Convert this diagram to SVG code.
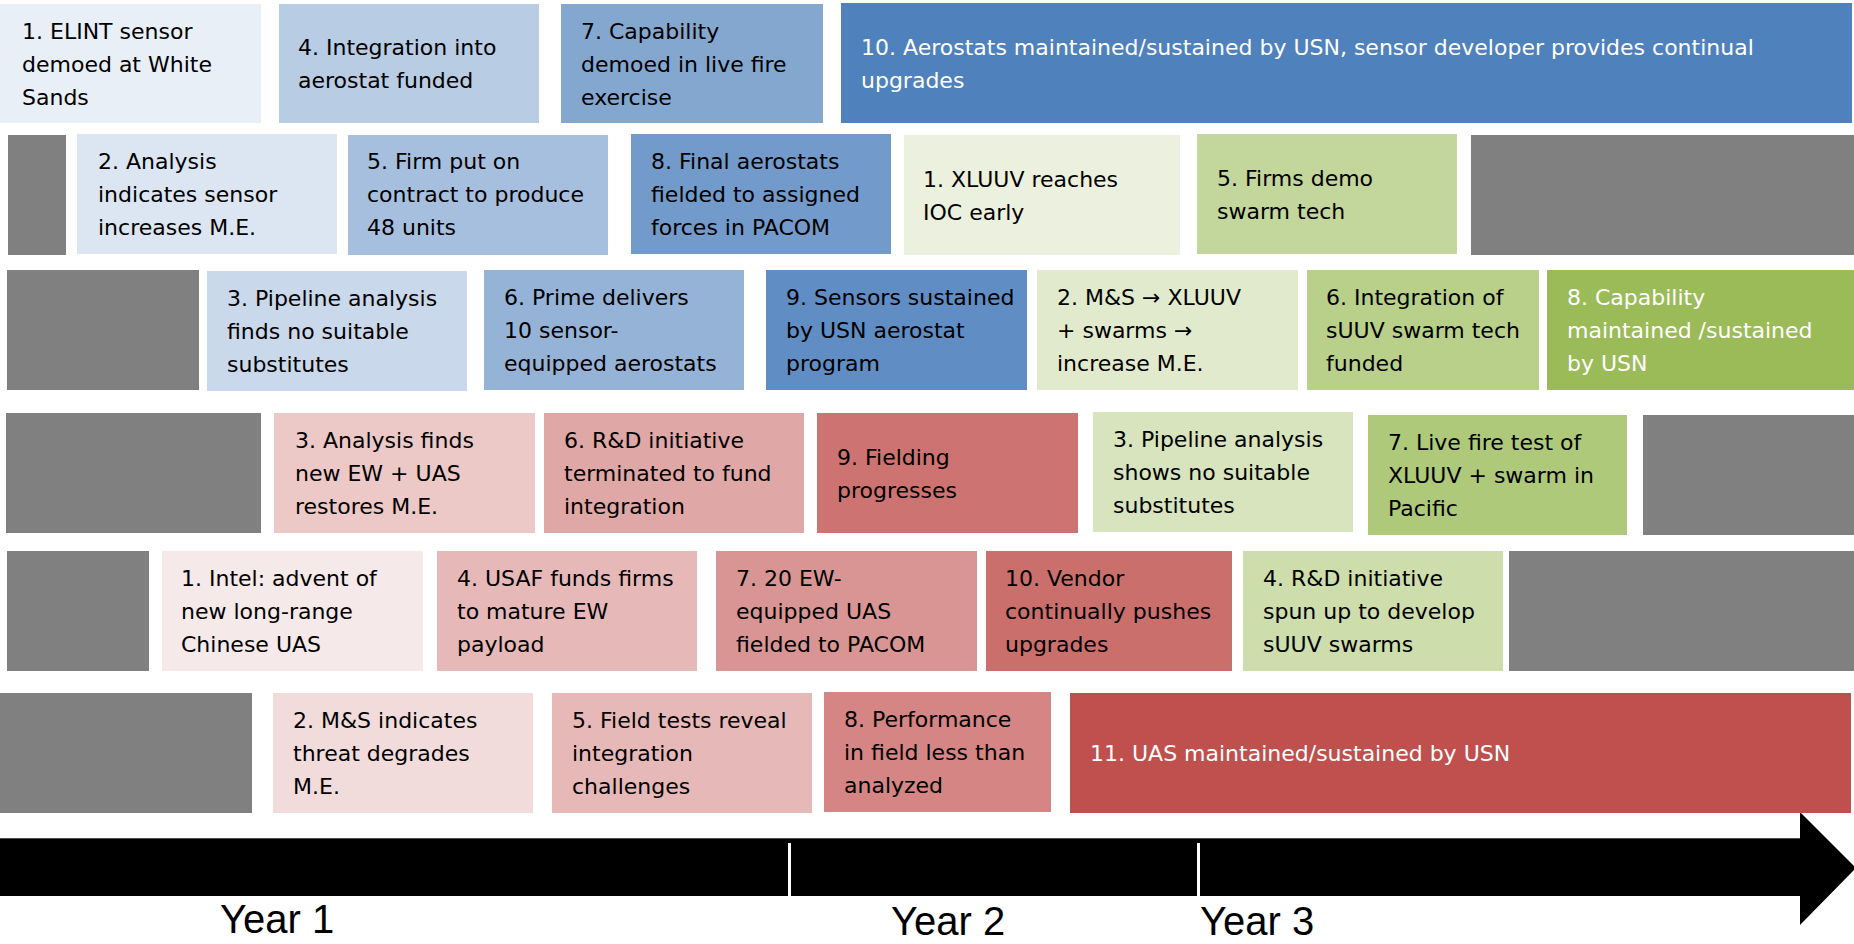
<svg xmlns="http://www.w3.org/2000/svg" width="1854" height="944" viewBox="0 0 1854 944">
<style>
  .t { font-family: "DejaVu Sans", "Liberation Sans", sans-serif; font-size: 22px; fill: #000; }
  .w { fill: #fff; }
  .gray { fill: #808080; }
  .yr { font-family: "Liberation Sans", "DejaVu Sans", sans-serif; font-size: 40px; fill: #000; }
</style>
<rect width="1854" height="944" fill="#fff"/>

<!-- Row 1 -->
<g id="b1"><rect x="0" y="4" width="261" height="119" fill="#E9EFF7"/>
<text class="t"><tspan x="22" y="38.5">1. ELINT sensor</tspan><tspan x="22" y="71.5">demoed at White</tspan><tspan x="22" y="104.5">Sands</tspan></text></g>
<g id="b4"><rect x="279" y="4" width="260" height="119" fill="#B8CCE4"/>
<text class="t"><tspan x="298" y="55">4. Integration into</tspan><tspan x="298" y="88">aerostat funded</tspan></text></g>
<g id="b7"><rect x="561" y="4" width="262" height="119" fill="#84A7D0"/>
<text class="t"><tspan x="581" y="38.5">7. Capability</tspan><tspan x="581" y="71.5">demoed in live fire</tspan><tspan x="581" y="104.5">exercise</tspan></text></g>
<g id="b10"><rect x="841" y="3" width="1011" height="120" fill="#4F81BD"/>
<text class="t w"><tspan x="861" y="54.5">10. Aerostats maintained/sustained by USN, sensor developer provides continual</tspan><tspan x="861" y="87.5">upgrades</tspan></text></g>

<!-- Row 2 -->
<g id="gray2a"><rect class="gray" x="8" y="135" width="58" height="120"/></g>
<g id="b2"><rect x="77" y="134" width="260" height="120" fill="#DCE6F2"/>
<text class="t"><tspan x="98" y="169">2. Analysis</tspan><tspan x="98" y="202">indicates sensor</tspan><tspan x="98" y="235">increases M.E.</tspan></text></g>
<g id="b5"><rect x="348" y="135" width="260" height="120" fill="#A7BFDE"/>
<text class="t"><tspan x="367" y="169">5. Firm put on</tspan><tspan x="367" y="202">contract to produce</tspan><tspan x="367" y="235">48 units</tspan></text></g>
<g id="b8"><rect x="631" y="134" width="260" height="120" fill="#729ACA"/>
<text class="t"><tspan x="651" y="169">8. Final aerostats</tspan><tspan x="651" y="202">fielded to assigned</tspan><tspan x="651" y="235">forces in PACOM</tspan></text></g>
<g id="g1"><rect x="904" y="135" width="276" height="120" fill="#EBF1DE"/>
<text class="t"><tspan x="923" y="186.5">1. XLUUV reaches</tspan><tspan x="923" y="219.5">IOC early</tspan></text></g>
<g id="g5"><rect x="1197" y="134" width="260" height="120" fill="#C3D69B"/>
<text class="t"><tspan x="1217" y="185.5">5. Firms demo</tspan><tspan x="1217" y="218.5">swarm tech</tspan></text></g>
<g id="gray2b"><rect class="gray" x="1471" y="135" width="383" height="120"/></g>

<!-- Row 3 -->
<g id="gray3a"><rect class="gray" x="7" y="270" width="192" height="120"/></g>
<g id="b3"><rect x="207" y="271" width="260" height="120" fill="#C9D8EB"/>
<text class="t"><tspan x="227" y="306">3. Pipeline analysis</tspan><tspan x="227" y="339">finds no suitable</tspan><tspan x="227" y="372">substitutes</tspan></text></g>
<g id="b6"><rect x="484" y="270" width="260" height="120" fill="#95B3D7"/>
<text class="t"><tspan x="504" y="305">6. Prime delivers</tspan><tspan x="504" y="338">10 sensor-</tspan><tspan x="504" y="371">equipped aerostats</tspan></text></g>
<g id="b9"><rect x="766" y="270" width="261" height="120" fill="#5F8DC4"/>
<text class="t"><tspan x="786" y="305">9. Sensors sustained</tspan><tspan x="786" y="338">by USN aerostat</tspan><tspan x="786" y="371">program</tspan></text></g>
<g id="g2"><rect x="1037" y="270" width="261" height="120" fill="#E1EACD"/>
<text class="t"><tspan x="1057" y="305">2. M&amp;S → XLUUV</tspan><tspan x="1057" y="338">+ swarms →</tspan><tspan x="1057" y="371">increase M.E.</tspan></text></g>
<g id="g6"><rect x="1307" y="270" width="232" height="120" fill="#B9D08B"/>
<text class="t"><tspan x="1326" y="305">6. Integration of</tspan><tspan x="1326" y="338">sUUV swarm tech</tspan><tspan x="1326" y="371">funded</tspan></text></g>
<g id="g8"><rect x="1547" y="270" width="307" height="120" fill="#9BBB59"/>
<text class="t w"><tspan x="1567" y="305">8. Capability</tspan><tspan x="1567" y="338">maintained /sustained</tspan><tspan x="1567" y="371">by USN</tspan></text></g>

<!-- Row 4 -->
<g id="gray4a"><rect class="gray" x="6" y="413" width="255" height="120"/></g>
<g id="r3"><rect x="274" y="413" width="261" height="120" fill="#ECC8C7"/>
<text class="t"><tspan x="295" y="448">3. Analysis finds</tspan><tspan x="295" y="481">new EW + UAS</tspan><tspan x="295" y="514">restores M.E.</tspan></text></g>
<g id="r6"><rect x="544" y="413" width="260" height="120" fill="#DFA7A6"/>
<text class="t"><tspan x="564" y="448">6. R&amp;D initiative</tspan><tspan x="564" y="481">terminated to fund</tspan><tspan x="564" y="514">integration</tspan></text></g>
<g id="r9"><rect x="817" y="413" width="261" height="120" fill="#CD7371"/>
<text class="t"><tspan x="837" y="464.5">9. Fielding</tspan><tspan x="837" y="497.5">progresses</tspan></text></g>
<g id="g3"><rect x="1093" y="412" width="260" height="120" fill="#D7E4BD"/>
<text class="t"><tspan x="1113" y="447">3. Pipeline analysis</tspan><tspan x="1113" y="480">shows no suitable</tspan><tspan x="1113" y="513">substitutes</tspan></text></g>
<g id="g7"><rect x="1368" y="415" width="259" height="120" fill="#AFC97A"/>
<text class="t"><tspan x="1388" y="450">7. Live fire test of</tspan><tspan x="1388" y="483">XLUUV + swarm in</tspan><tspan x="1388" y="516">Pacific</tspan></text></g>
<g id="gray4b"><rect class="gray" x="1643" y="415" width="211" height="120"/></g>

<!-- Row 5 -->
<g id="gray5a"><rect class="gray" x="7" y="551" width="142" height="120"/></g>
<g id="r1"><rect x="162" y="551" width="261" height="120" fill="#F5E9E9"/>
<text class="t"><tspan x="181" y="586">1. Intel: advent of</tspan><tspan x="181" y="619">new long-range</tspan><tspan x="181" y="652">Chinese UAS</tspan></text></g>
<g id="r4"><rect x="437" y="551" width="260" height="120" fill="#E6B9B8"/>
<text class="t"><tspan x="457" y="586">4. USAF funds firms</tspan><tspan x="457" y="619">to mature EW</tspan><tspan x="457" y="652">payload</tspan></text></g>
<g id="r7"><rect x="716" y="551" width="261" height="120" fill="#D99594"/>
<text class="t"><tspan x="736" y="586">7. 20 EW-</tspan><tspan x="736" y="619">equipped UAS</tspan><tspan x="736" y="652">fielded to PACOM</tspan></text></g>
<g id="r10"><rect x="986" y="551" width="246" height="120" fill="#CB6F6D"/>
<text class="t"><tspan x="1005" y="586">10. Vendor</tspan><tspan x="1005" y="619">continually pushes</tspan><tspan x="1005" y="652">upgrades</tspan></text></g>
<g id="g4"><rect x="1243" y="551" width="260" height="120" fill="#CDDDAC"/>
<text class="t"><tspan x="1263" y="586">4. R&amp;D initiative</tspan><tspan x="1263" y="619">spun up to develop</tspan><tspan x="1263" y="652">sUUV swarms</tspan></text></g>
<g id="gray5b"><rect class="gray" x="1509" y="551" width="345" height="120"/></g>

<!-- Row 6 -->
<g id="gray6a"><rect class="gray" x="0" y="693" width="252" height="120"/></g>
<g id="r2"><rect x="273" y="693" width="260" height="120" fill="#F2DCDB"/>
<text class="t"><tspan x="293" y="728">2. M&amp;S indicates</tspan><tspan x="293" y="761">threat degrades</tspan><tspan x="293" y="794">M.E.</tspan></text></g>
<g id="r5"><rect x="552" y="693" width="260" height="120" fill="#E6B9B8"/>
<text class="t"><tspan x="572" y="728">5. Field tests reveal</tspan><tspan x="572" y="761">integration</tspan><tspan x="572" y="794">challenges</tspan></text></g>
<g id="r8"><rect x="824" y="692" width="227" height="120" fill="#D48584"/>
<text class="t"><tspan x="844" y="727">8. Performance</tspan><tspan x="844" y="760">in field less than</tspan><tspan x="844" y="793">analyzed</tspan></text></g>

<!-- Timeline -->
<g id="timeline">
<polygon points="0,838 1800,838 1800,812 1856,868 1800,925 1800,896 0,896" fill="#000"/>
<line x1="0" y1="838.5" x2="1800" y2="838.5" stroke="#4a4a4a" stroke-width="1"/>
<rect x="788" y="843" width="3" height="53" fill="#fff"/>
<rect x="1197" y="843" width="3" height="53" fill="#fff"/>
</g>

<g id="r11"><rect x="1070" y="693" width="781" height="120" fill="#C0504D"/>
<text class="t w"><tspan x="1090" y="761">11. UAS maintained/sustained by USN</tspan></text></g>

<g id="years">
<text class="yr" x="220" y="933">Year 1</text>
<text class="yr" x="891" y="935">Year 2</text>
<text class="yr" x="1200" y="935">Year 3</text>
</g>
</svg>
